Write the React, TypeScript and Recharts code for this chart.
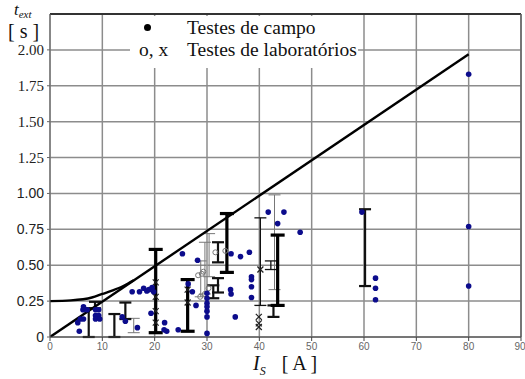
import {
  CartesianGrid,
  ComposedChart,
  ErrorBar,
  Line,
  ReferenceLine,
  Scatter,
  XAxis,
  YAxis,
} from "recharts";

// I_S [A] -> t_ext [s]
const xTicks = [0, 10, 20, 30, 40, 50, 60, 70, 80, 90];
const yTicks = [0, 0.25, 0.5, 0.75, 1.0, 1.25, 1.5, 1.75, 2.0];

const limitLine = [
  { x: 0, y: 0 },
  { x: 80, y: 1.97 },
];

const limitCurve = [
  { x: 0, y: 0.25 },
  { x: 4, y: 0.255 },
  { x: 8, y: 0.275 },
  { x: 10, y: 0.3 },
  { x: 12, y: 0.325 },
  { x: 14, y: 0.355 },
  { x: 16, y: 0.395 },
];

// field tests (blue dots)
const fieldDots = [
  [5.6, 0.04], [5.3, 0.1], [5.8, 0.125], [6.4, 0.125], [6.3, 0.19], [6.4, 0.21],
  [7.1, 0.19], [8.7, 0.19], [8.7, 0.15], [9.3, 0.15], [8.7, 0.125], [9.5, 0.125],
  [9.3, 0.19], [13.8, 0.14], [14.4, 0.11], [16.7, 0.065], [15.7, 0.315], [17.1, 0.315],
  [17.9, 0.34], [18.5, 0.32], [18.9, 0.33], [19.5, 0.345], [19.8, 0.315], [19.3, 0.165],
  [21.9, 0.1], [21.8, 0.05], [22.3, 0.04], [24.5, 0.05], [25.3, 0.58], [26.4, 0.37],
  [27.2, 0.315], [27.9, 0.22], [28.2, 0.535], [30, 0.305], [30, 0.27], [30, 0.235],
  [30, 0.21], [30, 0.18], [30, 0.14], [30, 0.025], [35.4, 0.14], [34.6, 0.58],
  [36.4, 0.56], [38.1, 0.59], [34.5, 0.33], [34.6, 0.3], [38.5, 0.42], [38.5, 0.4],
  [38.5, 0.35], [38.5, 0.275], [41.7, 0.87], [44.7, 0.87], [43.5, 0.79], [47.8, 0.73],
  [59.6, 0.87], [62.2, 0.41], [62.2, 0.34], [62.2, 0.26], [80, 0.77], [80, 0.355],
  [80, 1.83],
].map(([x, y]) => ({ x, y }));

// lab tests: ranges [x, low, high]
const heavyRanges = [
  [20.2, 0.03, 0.61],
  [26.3, 0.04, 0.4],
  [33.8, 0.45, 0.86],
  [43.5, 0.22, 0.71],
];
const mediumRanges = [
  [7.4, 0.0, 0.2],
  [8.6, 0.2, 0.245],
  [12.3, 0.0, 0.16],
  [14.4, 0.125, 0.24],
  [31.2, 0.27, 0.36],
  [32.1, 0.31, 0.41],
  [32.1, 0.52, 0.66],
  [42.7, 0.14, 0.22],
  [60.2, 0.355, 0.89],
];
const thinRanges = [
  [40.2, 0.22, 0.83],
  [42.2, 0.47, 0.53],
];
const greyRanges = [
  [16.0, 0.03, 0.13],
  [28.8, 0.28, 0.53],
  [29.6, 0.3, 0.66],
  [30.4, 0.42, 0.72],
  [42.9, 0.33, 0.99],
];

const labCrosses = [
  [20.2, 0.38], [20.2, 0.28], [20.2, 0.18], [20.2, 0.1], [26.3, 0.33], [26.3, 0.24],
  [40.2, 0.47], [39.9, 0.14], [39.9, 0.095], [39.9, 0.07],
].map(([x, y]) => ({ x, y }));

const labCircles = [
  [31.6, 0.59], [33.5, 0.6], [28.3, 0.43], [29.0, 0.44], [29.3, 0.455], [28.7, 0.28],
  [29.6, 0.3], [30.3, 0.34],
].map(([x, y]) => ({ x, y }));

const toBars = (rows: number[][]) =>
  rows.map(([x, low, high]) => ({ x, y: low, err: [0, high - low] }));

const serif = "'Liberation Serif', 'DejaVu Serif', serif";
const sans = "'Liberation Sans', Arial, sans-serif";

function YTick(props: any) {
  const { x, y, payload } = props;
  const v = payload.value as number;
  const big = v >= 1.25;
  return (
    <text
      x={x - 1}
      y={y}
      dy={5}
      textAnchor="end"
      fontFamily={big ? serif : sans}
      fontSize={big ? 15 : 14}
      fill="#222"
    >
      {v === 0 ? "0" : v.toFixed(2)}
    </text>
  );
}

function Dot(props: any) {
  return <circle cx={props.cx} cy={props.cy} r={2.8} fill="#0c0c8c" />;
}

function Cross(props: any) {
  const { cx, cy } = props;
  const s = 3;
  return (
    <g stroke="#222" strokeWidth={1.2}>
      <line x1={cx - s} y1={cy - s} x2={cx + s} y2={cy + s} />
      <line x1={cx - s} y1={cy + s} x2={cx + s} y2={cy - s} />
    </g>
  );
}

function Ring(props: any) {
  return <circle cx={props.cx} cy={props.cy} r={2.5} fill="none" stroke="#777" strokeWidth={1} />;
}

const Hidden = () => <g />;

export default function App() {
  return (
    <div style={{ position: "absolute", left: 0, top: 0, width: 525, height: 379, background: "#fff" }}>
      <ComposedChart
        width={525}
        height={379}
        margin={{ top: 14, right: 4, bottom: 0, left: 0 }}
      >
        <CartesianGrid stroke="#8c8c8c" strokeWidth={1.5} horizontalValues={yTicks} verticalValues={xTicks} />
        <XAxis
          type="number"
          dataKey="x"
          domain={[0, 90]}
          ticks={xTicks}
          height={42}
          tickSize={4}
          tick={{ fontFamily: sans, fontSize: 10, fill: "#666" }}
          stroke="#444"
          allowDataOverflow
        />
        <YAxis
          type="number"
          dataKey="y"
          domain={[0, 2.25]}
          ticks={yTicks}
          width={50}
          tickSize={3}
          tick={<YTick />}
          stroke="#666"
          allowDataOverflow
        />
        <ReferenceLine y={2.25} stroke="#333" strokeWidth={2} />
        <ReferenceLine x={90} stroke="#666" strokeWidth={1.5} />

        <Scatter data={toBars(greyRanges)} dataKey="y" shape={Hidden} isAnimationActive={false}>
          <ErrorBar dataKey="err" direction="y" width={6} stroke="#777" strokeWidth={1} />
        </Scatter>
        <Scatter data={toBars(thinRanges)} dataKey="y" shape={Hidden} isAnimationActive={false}>
          <ErrorBar dataKey="err" direction="y" width={6} stroke="#111" strokeWidth={1.3} />
        </Scatter>
        <Scatter data={toBars(mediumRanges)} dataKey="y" shape={Hidden} isAnimationActive={false}>
          <ErrorBar dataKey="err" direction="y" width={6} stroke="#111" strokeWidth={2.2} />
        </Scatter>
        <Scatter data={toBars(heavyRanges)} dataKey="y" shape={Hidden} isAnimationActive={false}>
          <ErrorBar dataKey="err" direction="y" width={7} stroke="#000" strokeWidth={3.2} />
        </Scatter>

        <Scatter data={labCircles} dataKey="y" shape={Ring} isAnimationActive={false} />
        <Scatter data={labCrosses} dataKey="y" shape={Cross} isAnimationActive={false} />
        <Scatter data={fieldDots} dataKey="y" shape={Dot} isAnimationActive={false} />

        <Line data={limitLine} dataKey="y" type="linear" stroke="#000" strokeWidth={2.4} dot={false} isAnimationActive={false} />
        <Line data={limitCurve} dataKey="y" type="monotone" stroke="#000" strokeWidth={2.4} dot={false} isAnimationActive={false} />
      </ComposedChart>

      {/* legend box */}
      <div
        style={{
          position: "absolute",
          left: 130,
          top: 16,
          width: 228,
          height: 52,
          background: "#fff",
          fontFamily: serif,
          fontSize: 19.5,
          lineHeight: "22px",
          color: "#111",
        }}
      >
        <div style={{ position: "absolute", left: 14, top: 8, width: 7, height: 7, borderRadius: "50%", background: "#000" }} />
        <div style={{ position: "absolute", left: 57, top: 1, whiteSpace: "nowrap" }}>Testes de campo</div>
        <div style={{ position: "absolute", left: 9, top: 23, whiteSpace: "nowrap" }}>o, x</div>
        <div style={{ position: "absolute", left: 57, top: 23, whiteSpace: "nowrap" }}>Testes de laboratórios</div>
      </div>

      {/* y title */}
      <div
        style={{
          position: "absolute",
          left: 14,
          top: 1,
          fontFamily: serif,
          fontSize: 17,
          lineHeight: "17px",
          fontStyle: "italic",
          color: "#111",
          whiteSpace: "nowrap",
        }}
      >
        t<span style={{ fontSize: 11, position: "relative", top: 3 }}>ext</span>
      </div>
      <div style={{ position: "absolute", left: 8, top: 20, fontFamily: serif, fontSize: 20, color: "#111", whiteSpace: "nowrap" }}>
        [ s ]
      </div>

      {/* x title */}
      <div style={{ position: "absolute", left: 253, top: 352, fontFamily: serif, fontSize: 20, color: "#111", whiteSpace: "nowrap" }}>
        <span style={{ fontStyle: "italic" }}>
          I<sub style={{ fontSize: 12 }}>S</sub>
        </span>
        <span style={{ marginLeft: 16 }}>[ A ]</span>
      </div>
    </div>
  );
}
